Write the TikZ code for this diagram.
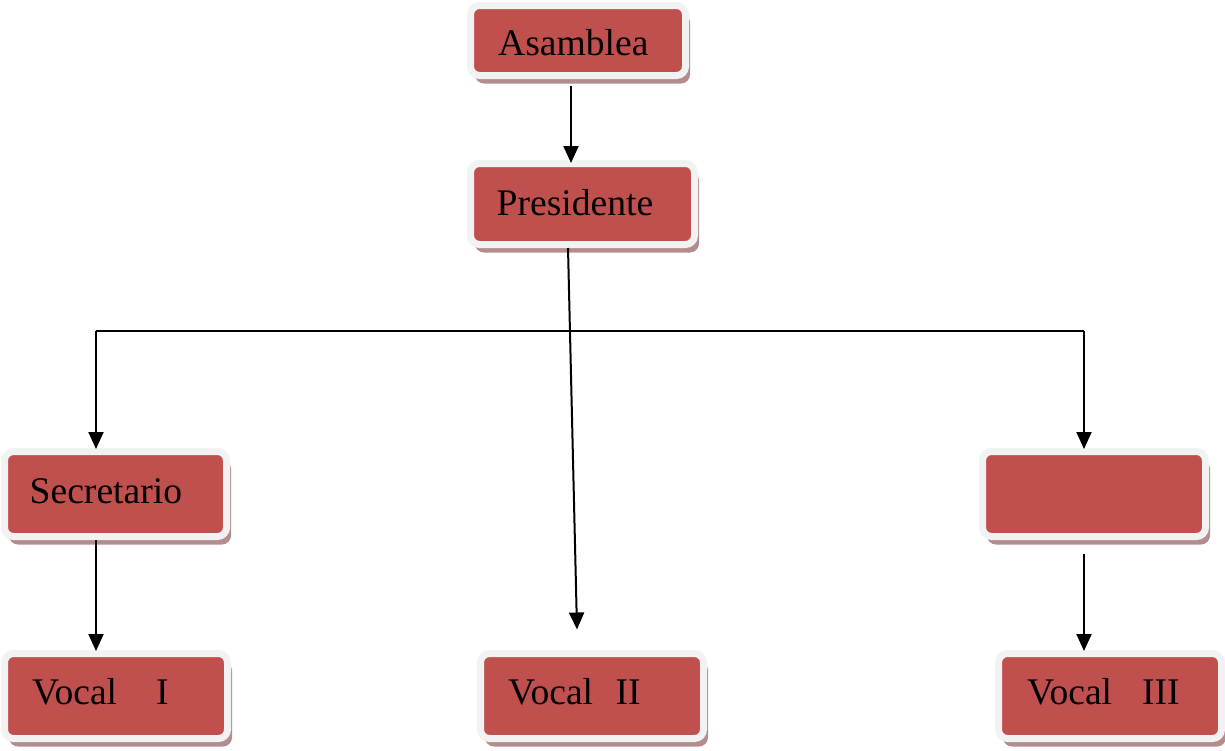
\documentclass[tikz,border=0pt]{standalone}
\usepackage{fontspec}
\setmainfont{Liberation Serif}
\usetikzlibrary{arrows.meta,shadows}
\definecolor{boxred}{HTML}{C0504D}
\definecolor{boxrim}{HTML}{F2F2F2}
\definecolor{boxshade}{HTML}{B38D8D}
\tikzset{
  orgbox/.style={rectangle, rounded corners=9pt, fill=boxred, draw=boxrim,
    line width=7pt, inner sep=0pt,
    drop shadow={shadow xshift=4.5pt, shadow yshift=-8pt, fill=boxshade, opacity=1}},
  lbl/.style={anchor=base west, inner sep=0pt, font=\fontsize{37.6}{44}\selectfont},
  arr/.style={line width=2pt, -{Triangle[width=15pt,length=17pt]}},
  link/.style={line width=2pt}
}
\begin{document}
\begin{tikzpicture}[x=1pt,y=-1pt]
\useasboundingbox (0,0) rectangle (1225,750);
\node[orgbox, minimum width=215pt, minimum height=70pt] (asam) at (578,40.5) {};
\node[orgbox, minimum width=224pt, minimum height=81pt] (pres) at (582.5,204) {};
\node[orgbox, minimum width=222pt, minimum height=85pt] (secr) at (115.5,494) {};
\node[orgbox, minimum width=223pt, minimum height=85pt] (blank) at (1094,494) {};
\node[orgbox, minimum width=223pt, minimum height=85pt] (v1) at (116,696) {};
\node[orgbox, minimum width=223pt, minimum height=85pt] (v2) at (592,696) {};
\node[orgbox, minimum width=223pt, minimum height=85pt] (v3) at (1110,696) {};

\node[lbl] (tasam) at (498,55) {Asamblea};
\node[lbl] (tpres) at (496.5,215) {Presidente};
\node[lbl] (tsecr) at (29.5,503) {Secretario};
\node[lbl] (tv1) at (32,704) {Vocal\hspace{39pt}I};
\node[lbl] (tv2) at (508,704) {Vocal\hspace{22.5pt}II};
\node[lbl] (tv3) at (1027,704) {Vocal\hspace{30pt}III};

\coordinate (jl) at (96,331);
\coordinate (jr) at (1084,331);

\draw[arr] ([xshift=-7pt,yshift=-6.5pt]asam.south) -- ([xshift=-11.5pt,yshift=-3pt]pres.north);
\draw[arr] ([xshift=-14.5pt]pres.south) -- ([xshift=-15pt,yshift=20.5pt]v2.north);
\draw[link] (jl) -- (jr);
\draw[arr] (jl) -- ([yshift=-1pt]jl |- secr.north);
\draw[arr] (jr) -- ([yshift=-1pt]jr |- blank.north);
\draw[arr] (secr.south -| jl) -- ([yshift=-1pt]v1.north -| jl);
\draw[arr] ([yshift=-13.5pt]blank.south -| jr) -- ([yshift=-1pt]v3.north -| jr);
\end{tikzpicture}
\end{document}
